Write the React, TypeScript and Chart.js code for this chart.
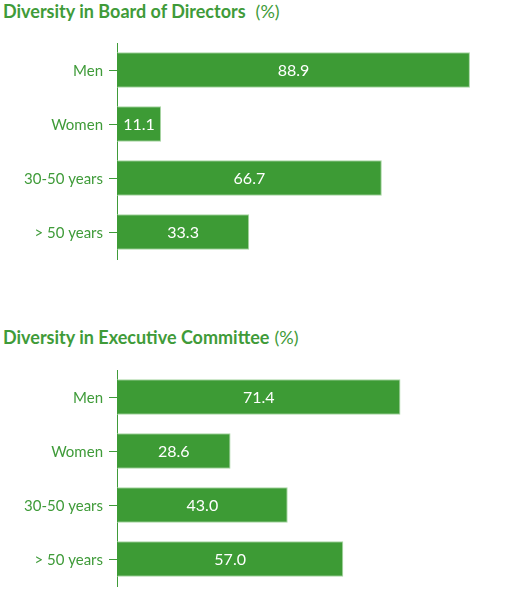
import React, { useEffect, useRef } from "react";
import { Chart, registerables } from "chart.js";

Chart.register(...registerables);

const categories = ["Men", "Women", "30-50 years", "> 50 years"];
const boardValues = [88.9, 11.1, 66.7, 33.3];
const committeeValues = [71.4, 28.6, 43.0, 57.0];

const GREEN = "#3d9b35";
const TEXT_GREEN = "#3f9b39";
const FONT = "Lato, 'Open Sans', sans-serif";

const valueLabels = {
    id: "valueLabels",
    afterDatasetsDraw(chart: any) {
        const ctx = chart.ctx;
        const meta = chart.getDatasetMeta(0);
        const data = chart.data.datasets[0].data;
        ctx.save();
        ctx.fillStyle = "#ffffff";
        ctx.font = `16px ${FONT}`;
        ctx.textAlign = "center";
        ctx.textBaseline = "middle";
        meta.data.forEach((bar: any, i: number) => {
            const cx = (bar.x + bar.base) / 2;
            ctx.fillText(Number(data[i]).toFixed(1), cx, bar.y + 1);
        });
        ctx.restore();
    },
};

interface BarProps {
    values: number[];
    top: number;
    height: number;
    padTop: number;
    padBottom: number;
}

const HBar = (props: BarProps) => {
    const canvasRef = useRef<HTMLCanvasElement | null>(null);

    useEffect(() => {
        const ctx = canvasRef.current?.getContext("2d");
        if (!ctx) return;
        const chart = new Chart(ctx, {
            type: "bar",
            data: {
                labels: categories,
                datasets: [
                    {
                        data: props.values,
                        backgroundColor: GREEN,
                        borderColor: "#a9d6a4",
                        borderWidth: 1,
                        borderSkipped: "start",
                        barPercentage: 0.66,
                        categoryPercentage: 1,
                    },
                ],
            },
            options: {
                indexAxis: "y",
                animation: false,
                responsive: false,
                maintainAspectRatio: false,
                layout: {
                    padding: { top: props.padTop, bottom: props.padBottom, right: 12, left: 0 },
                },
                plugins: {
                    legend: { display: false },
                    tooltip: { enabled: false },
                },
                scales: {
                    x: {
                        display: false,
                        min: 0,
                        max: 100,
                    },
                    y: {
                        afterFit: (scale: any) => {
                            scale.width = 117;
                            scale.paddingTop = 0;
                            scale.paddingBottom = 0;
                        },
                        grid: {
                            offset: false,
                            drawOnChartArea: false,
                            drawTicks: true,
                            tickLength: 8,
                            color: TEXT_GREEN,
                            lineWidth: 1,
                        },
                        border: { display: true, color: TEXT_GREEN, width: 1 },
                        ticks: {
                            color: TEXT_GREEN,
                            padding: 6,
                            labelOffset: 1,
                            font: { family: FONT, size: 15 },
                        },
                    },
                },
            },
            plugins: [valueLabels],
        });
        return () => {
            chart.destroy();
        };
    }, []);

    return (
        <canvas
            ref={canvasRef}
            width={526}
            height={props.height}
            style={{ position: "absolute", left: 0, top: props.top, width: 526, height: props.height }}
        />
    );
};

const titleStyle = (top: number): React.CSSProperties => ({
    position: "absolute",
    left: 3,
    top,
    margin: 0,
    fontFamily: FONT,
    fontSize: 18,
    fontWeight: 700,
    color: TEXT_GREEN,
    whiteSpace: "nowrap",
    lineHeight: "20px",
});

const App = () => {
    useEffect(() => {
        document.body.style.margin = "0";
    }, []);

    return (
        <div style={{ position: "relative", width: 526, height: 591, overflow: "hidden", background: "#fff" }}>
            <div style={titleStyle(1)}>
                Diversity in Board of Directors
                <span style={{ fontWeight: 400, marginLeft: 10 }}>(%)</span>
            </div>
            <HBar values={boardValues} top={35} height={230} padTop={8} padBottom={6} />
            <div style={titleStyle(327)}>
                Diversity in Executive Committee
                <span style={{ fontWeight: 400, marginLeft: 5 }}>(%)</span>
            </div>
            <HBar values={committeeValues} top={362} height={229} padTop={8} padBottom={5} />
        </div>
    );
};

export default App;
